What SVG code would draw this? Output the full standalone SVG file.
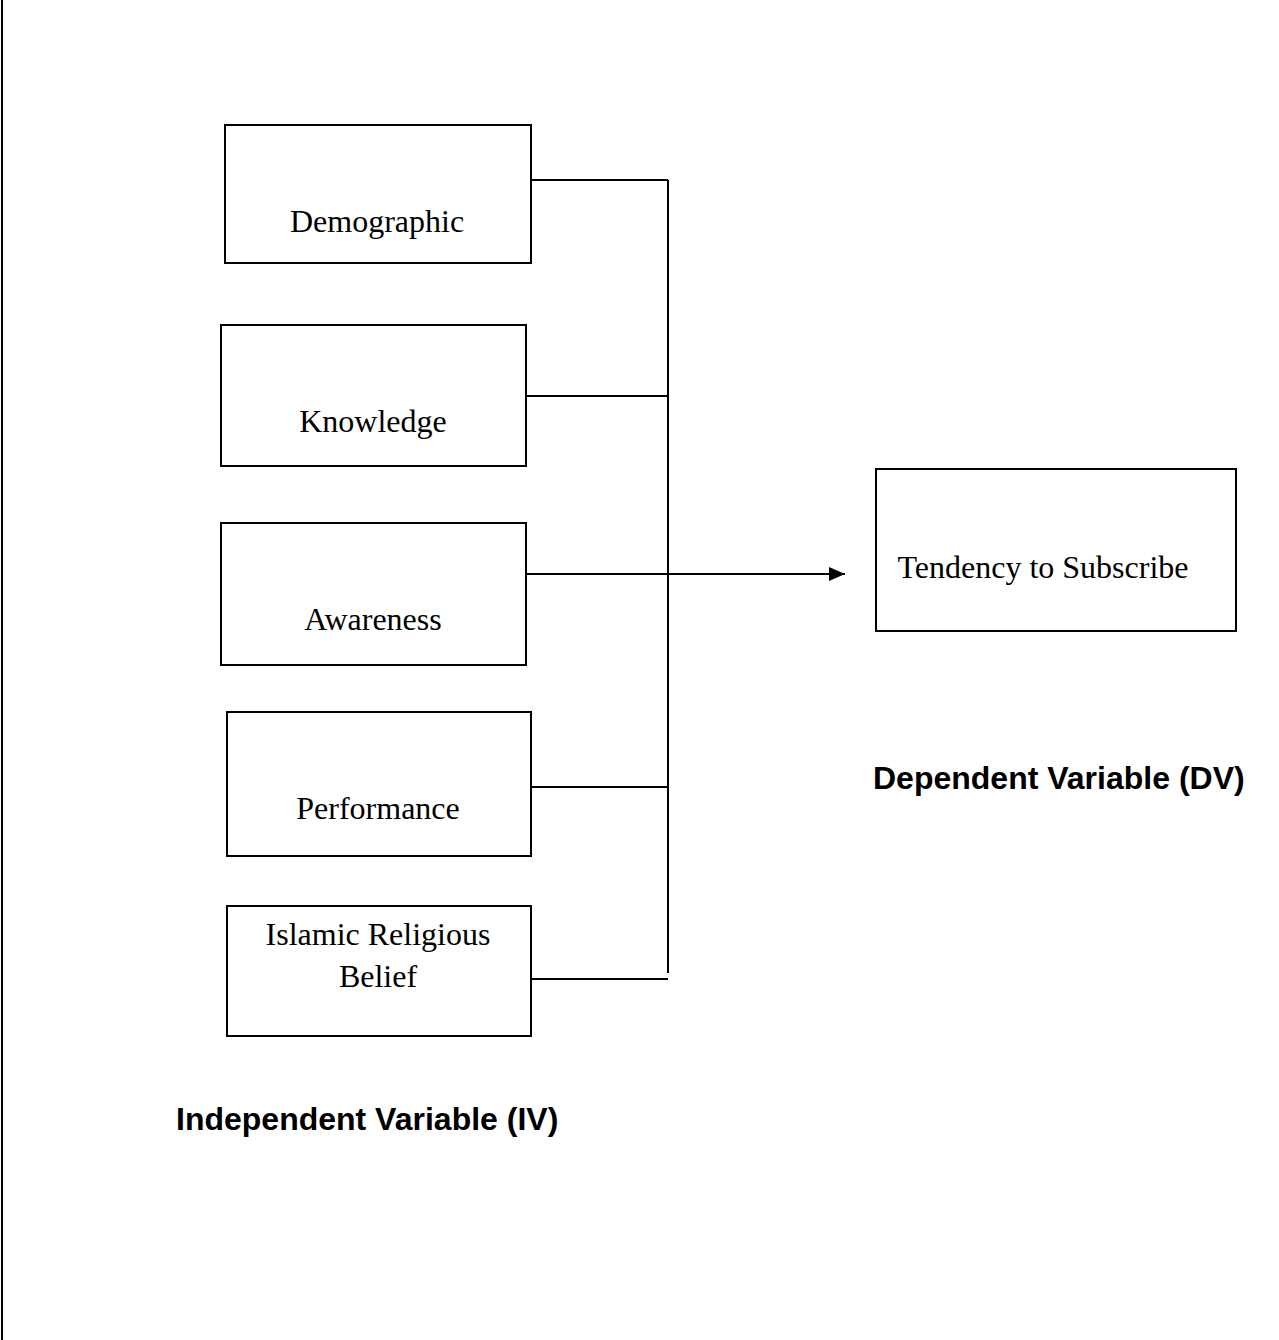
<svg xmlns="http://www.w3.org/2000/svg" width="1279" height="1340" viewBox="0 0 1279 1340">
<style>
.box{fill:#fff;stroke:#000;stroke-width:2}
.t{font-family:"Liberation Serif","Times New Roman",serif;font-size:32px;fill:#000;text-anchor:middle}
.lbl{font-family:"Liberation Sans",Arial,sans-serif;font-size:32px;font-weight:bold;fill:#000}
.ln{stroke:#000;stroke-width:2;fill:none}
</style>
<defs>
<marker id="arr" markerWidth="16" markerHeight="14" refX="16" refY="7" orient="auto" markerUnits="userSpaceOnUse">
<path d="M0,0 L16,7 L0,14 Z" fill="#000"/>
</marker>
</defs>
<rect x="0" y="0" width="1279" height="1340" fill="#fff"/>
<line x1="2" y1="0" x2="2" y2="1340" class="ln"/>
<g id="demographic"><rect class="box" x="225" y="125" width="306" height="138"/><text class="t" x="377" y="232">Demographic</text></g>
<g id="knowledge"><rect class="box" x="221" y="325" width="305" height="141"/><text class="t" x="373" y="432">Knowledge</text></g>
<g id="awareness"><rect class="box" x="221" y="523" width="305" height="142"/><text class="t" x="373" y="630">Awareness</text></g>
<g id="performance"><rect class="box" x="227" y="712" width="304" height="144"/><text class="t" x="378" y="819">Performance</text></g>
<g id="islamic"><rect class="box" x="227" y="906" width="304" height="130"/><text class="t" x="378" y="945">Islamic Religious</text><text class="t" x="378" y="987">Belief</text></g>
<g id="tendency"><rect class="box" x="876" y="469" width="360" height="162"/><text class="t" x="1043" y="578">Tendency to Subscribe</text></g>
<g id="connectors">
<line class="ln" x1="668" y1="180" x2="668" y2="973"/>
<line class="ln" x1="531" y1="180" x2="668" y2="180"/>
<line class="ln" x1="526" y1="396" x2="668" y2="396"/>
<line class="ln" x1="526" y1="574" x2="845" y2="574" marker-end="url(#arr)"/>
<line class="ln" x1="531" y1="787" x2="668" y2="787"/>
<line class="ln" x1="531" y1="979" x2="668" y2="979"/>
</g>
<text class="lbl" x="873" y="789">Dependent Variable (DV)</text>
<text class="lbl" x="176" y="1130">Independent Variable (IV)</text>
</svg>
